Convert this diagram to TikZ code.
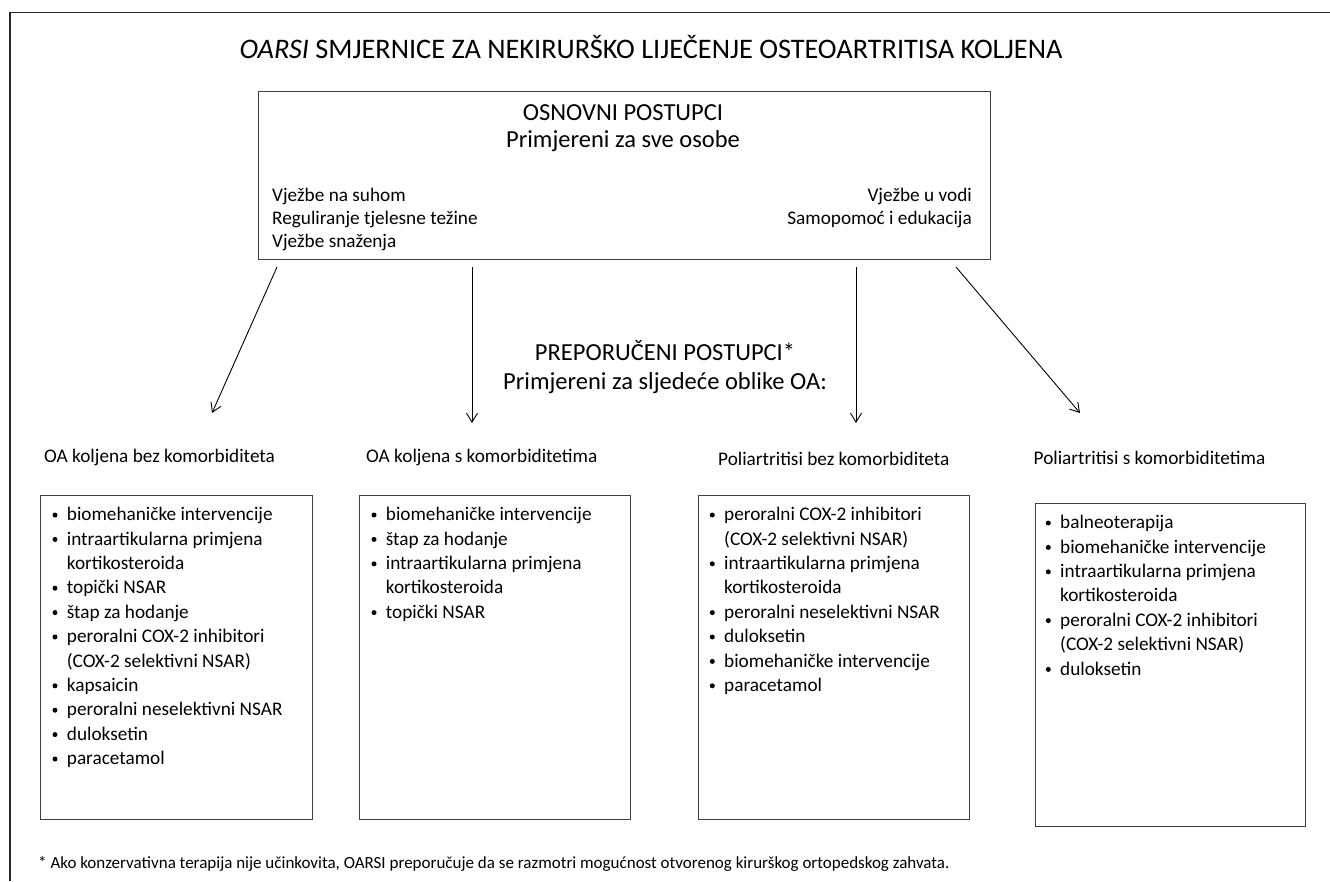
\documentclass[tikz,border=0pt]{standalone}
\usepackage{fontspec}
\setmainfont{Carlito}
\usetikzlibrary{arrows.meta}
\newcommand{\bulitem}[4]{\fill (#2-11.7,#3-5.7) circle[radius=2.5pt]; \node[li] (#1) at (#2,#3) {#4};}
\newcommand{\contitem}[4]{\node[li] (#1) at (#2,#3) {#4};}
\begin{document}
\begin{tikzpicture}[x=1pt,y=-1pt,
  frame/.style={draw=black!85, line width=1.6pt},
  box/.style={draw=black!75, line width=1pt, inner sep=0pt, anchor=north west},
  arr/.style={draw=black, line width=0.9pt, -{Straight Barb[length=9pt,width=11pt,line width=0.9pt]}},
  li/.style={font=\fontsize{19.25}{23}\selectfont, anchor=base west, inner sep=0pt},
  lir/.style={font=\fontsize{19.25}{23}\selectfont, anchor=base east, inner sep=0pt},
  hd/.style={font=\fontsize{24.5}{29}\selectfont, anchor=base, inner sep=0pt},
  ttl/.style={font=\fontsize{28.3}{33}\selectfont, anchor=base, inner sep=0pt},
  fnote/.style={font=\fontsize{17}{20}\selectfont, anchor=base west, inner sep=0pt}]
\useasboundingbox (0,0) rectangle (1330,881);
\fill[white] (0,0) rectangle (1330,881);
\draw[frame] (1330,12.5) -- (10,12.5) -- (10,881);

\node[ttl] (title) at (651,58) {\textit{OARSI} SMJERNICE ZA NEKIRURŠKO LIJEČENJE OSTEOARTRITISA KOLJENA};

% top box
\node[box, minimum width=732pt, minimum height=168pt] (osn) at (258,91) {};
\node[hd] (osnh1) at (623,120) {OSNOVNI POSTUPCI};
\node[hd] (osnh2) at (623,147) {Primjereni za sve osobe};
\node[li] (o1) at (272,201) {Vježbe na suhom};
\node[li] (o2) at (272,224.4) {Reguliranje tjelesne težine};
\node[li] (o3) at (272,247.8) {Vježbe snaženja};
\node[lir] (o4) at (972,201) {Vježbe u vodi};
\node[lir] (o5) at (972,224.4) {Samopomoć i edukacija};

\node[hd] (preph1) at (665,360) {PREPORUČENI POSTUPCI*};
\node[hd] (preph2) at (665,389) {Primjereni za sljedeće oblike OA:};

% column headers
\node[li] (h1) at (44,462) {OA koljena bez komorbiditeta};
\node[li] (h2) at (366,462) {OA koljena s komorbiditetima};
\node[li] (h3) at (718,465) {Poliartritisi bez komorbiditeta};
\node[li] (h4) at (1033.5,464) {Poliartritisi s komorbiditetima};

% arrows
\coordinate (a1s) at (277,267); \coordinate (a1e) at (212,413);
\coordinate (a2s) at (472,267); \coordinate (a2e) at (472,423);
\coordinate (a3s) at (856,267); \coordinate (a3e) at (856,423);
\coordinate (a4s) at (956,267); \coordinate (a4e) at (1080,413);
\draw[arr] (a1s) -- (a1e);
\draw[arr] (a2s) -- (a2e);
\draw[arr] (a3s) -- (a3e);
\draw[arr] (a4s) -- (a4e);

% boxes
\node[box, minimum width=272pt, minimum height=324pt] (b1) at (40,495) {};
\node[box, minimum width=271pt, minimum height=324pt] (b2) at (359,495) {};
\node[box, minimum width=271pt, minimum height=324pt] (b3) at (698,495) {};
\node[box, minimum width=270pt, minimum height=323pt] (b4) at (1035,503) {};

% box 1
\bulitem{b1i0}{66.7}{520.7}{biomehaničke intervencije}
\bulitem{b1i1}{66.7}{520.7+1*24.4}{intraartikularna primjena}
\contitem{b1i2}{66.7}{520.7+2*24.4}{kortikosteroida}
\bulitem{b1i3}{66.7}{520.7+3*24.4}{topički NSAR}
\bulitem{b1i4}{66.7}{520.7+4*24.4}{štap za hodanje}
\bulitem{b1i5}{66.7}{520.7+5*24.4}{peroralni COX-2 inhibitori}
\contitem{b1i6}{66.7}{520.7+6*24.4}{(COX-2 selektivni NSAR)}
\bulitem{b1i7}{66.7}{520.7+7*24.4}{kapsaicin}
\bulitem{b1i8}{66.7}{520.7+8*24.4}{peroralni neselektivni NSAR}
\bulitem{b1i9}{66.7}{520.7+9*24.4}{duloksetin}
\bulitem{b1i10}{66.7}{520.7+10*24.4}{paracetamol}

% box 2
\bulitem{b2i0}{385.7}{520.7}{biomehaničke intervencije}
\bulitem{b2i1}{385.7}{520.7+1*24.4}{štap za hodanje}
\bulitem{b2i2}{385.7}{520.7+2*24.4}{intraartikularna primjena}
\contitem{b2i3}{385.7}{520.7+3*24.4}{kortikosteroida}
\bulitem{b2i4}{385.7}{520.7+4*24.4}{topički NSAR}

% box 3
\bulitem{b3i0}{724}{520.7}{peroralni COX-2 inhibitori}
\contitem{b3i1}{724}{520.7+1*24.4}{(COX-2 selektivni NSAR)}
\bulitem{b3i2}{724}{520.7+2*24.4}{intraartikularna primjena}
\contitem{b3i3}{724}{520.7+3*24.4}{kortikosteroida}
\bulitem{b3i4}{724}{520.7+4*24.4}{peroralni neselektivni NSAR}
\bulitem{b3i5}{724}{520.7+5*24.4}{duloksetin}
\bulitem{b3i6}{724}{520.7+6*24.4}{biomehaničke intervencije}
\bulitem{b3i7}{724}{520.7+7*24.4}{paracetamol}

% box 4
\bulitem{b4i0}{1060}{528.7}{balneoterapija}
\bulitem{b4i1}{1060}{528.7+1*24.4}{biomehaničke intervencije}
\bulitem{b4i2}{1060}{528.7+2*24.4}{intraartikularna primjena}
\contitem{b4i3}{1060}{528.7+3*24.4}{kortikosteroida}
\bulitem{b4i4}{1060}{528.7+4*24.4}{peroralni COX-2 inhibitori}
\contitem{b4i5}{1060}{528.7+5*24.4}{(COX-2 selektivni NSAR)}
\bulitem{b4i6}{1060}{528.7+6*24.4}{duloksetin}

\node[fnote] (fn) at (38,868) {* Ako konzervativna terapija nije učinkovita, OARSI preporučuje da se razmotri mogućnost otvorenog kirurškog ortopedskog zahvata.};
\end{tikzpicture}
\end{document}
